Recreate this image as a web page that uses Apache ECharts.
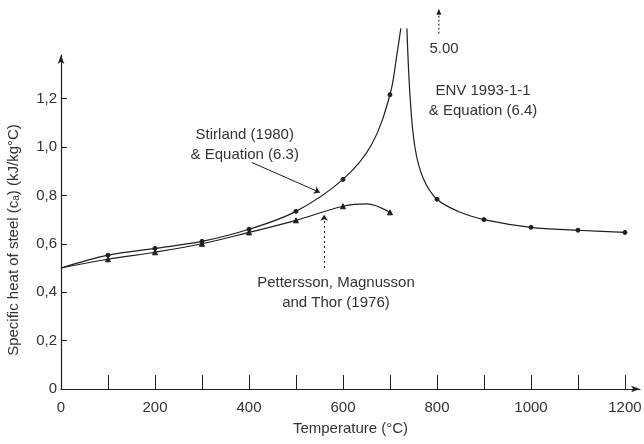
<!DOCTYPE html>
<html>
<head>
<meta charset="utf-8">
<script src="https://cdn.jsdelivr.net/npm/echarts@6/dist/echarts.min.js"></script>
<style>
  html, body { margin: 0; padding: 0; background: #fff; }
  #chart { width: 644px; height: 444px; }
</style>
</head>
<body>
<div id="chart"></div>
<script>
// Temperature (°C) and specific heat (kJ/kg°C)
// ENV 1993-1-1 / Stirland curve, rising branch up to the break near 735 °C
var envRiseTemp = [0, 100, 200, 300, 400, 500, 600, 661, 700, 715, 723];
var envRiseHeat = [0.50, 0.553, 0.581, 0.61, 0.66, 0.734, 0.866, 1.01, 1.216, 1.385, 1.49];
// falling branch after the peak
var envFallTemp = [736, 743, 753, 770, 800, 850, 900, 1000, 1100, 1200];
var envFallHeat = [1.49, 1.20, 1.0, 0.874, 0.784, 0.73, 0.70, 0.668, 0.656, 0.647];
// Pettersson, Magnusson and Thor (1976)
var petTemp = [0, 100, 200, 300, 400, 500, 600, 650, 700];
var petHeat = [0.50, 0.536, 0.565, 0.60, 0.647, 0.697, 0.755, 0.765, 0.73];

// tick positions
var xTicks = [0, 100, 200, 300, 400, 500, 600, 700, 800, 900, 1000, 1100, 1200];
var xLabels = [0, 200, 400, 600, 800, 1000, 1200];
var yLabels = [0, 0.2, 0.4, 0.6, 0.8, 1.0, 1.2];

var peakValue = '5.00';

function pts(t, v, markEvery) {
  return t.map(function (x, i) {
    var item = { value: [x, v[i]] };
    if (!(x > 0 && x % markEvery === 0)) item.symbol = 'none';
    return item;
  });
}

var ink = '#1e1e1e';
var textCol = '#333';
var font = 'Liberation Sans';
var fs = 15;

var lineBase = {
  type: 'line',
  smooth: 0.35,
  clip: false,
  showSymbol: true,
  symbolSize: 4,
  lineStyle: { color: ink, width: 1.2 },
  itemStyle: { color: ink, borderColor: ink, borderWidth: 1 },
  emphasis: { disabled: true },
  z: 3
};

var chart = echarts.init(document.getElementById('chart'), null, { renderer: 'canvas' });

chart.setOption({
  animation: false,
  backgroundColor: '#fff',
  textStyle: { fontFamily: font },
  grid: { left: 61, right: 4, top: 55, bottom: 55, containLabel: false, outerBoundsMode: 'none' },
  xAxis: {
    type: 'value',
    min: 0,
    max: 1232,
    name: 'Temperature (°C)',
    nameLocation: 'middle',
    nameGap: 32,
    nameTextStyle: { color: textCol, fontSize: fs, fontFamily: font },
    axisLine: { show: true, symbol: ['none', 'arrow'], symbolSize: [5, 9], lineStyle: { color: ink, width: 1.2 } },
    axisTick: { show: true, inside: true, length: 14, customValues: xTicks, lineStyle: { color: ink, width: 1 } },
    axisLabel: {
      customValues: xLabels, color: textCol, fontSize: fs, margin: 11, fontFamily: font,
      formatter: function (v) { return String(v); }
    },
    splitLine: { show: false }
  },
  yAxis: {
    type: 'value',
    min: 0,
    max: 1.38,
    name: 'Specific heat of steel (c{sub|a}) (kJ/kg°C)',
    nameLocation: 'middle',
    nameRotate: 90,
    nameGap: 40,
    nameTextStyle: {
      color: textCol, fontSize: fs, fontFamily: font, padding: [0, 36, 0, 0],
      rich: { sub: { fontSize: 10, color: textCol, fontFamily: font, verticalAlign: 'bottom', padding: [5, 0, 0, 0] } }
    },
    axisLine: { show: true, symbol: ['none', 'arrow'], symbolSize: [5, 9], lineStyle: { color: ink, width: 1.2 } },
    axisTick: { show: true, inside: true, length: 6, customValues: yLabels, lineStyle: { color: ink, width: 1 } },
    axisLabel: {
      customValues: yLabels, color: textCol, fontSize: fs, margin: 4, fontFamily: font,
      formatter: function (v) { return v === 0 ? '0' : v.toFixed(1).replace('.', ','); }
    },
    splitLine: { show: false }
  },
  series: [
    Object.assign({}, lineBase, {
      name: 'ENV 1993-1-1 rise',
      symbol: 'circle',
      data: pts(envRiseTemp, envRiseHeat, 100)
    }),
    Object.assign({}, lineBase, {
      name: 'ENV 1993-1-1 fall',
      symbol: 'circle',
      data: pts(envFallTemp, envFallHeat, 100)
    }),
    Object.assign({}, lineBase, {
      name: 'Pettersson, Magnusson and Thor',
      symbol: 'triangle',
      symbolSize: 5,
      data: pts(petTemp, petHeat, 100)
    }),
    {
      name: 'notes',
      type: 'line',
      data: [],
      clip: false,
      silent: true,
      markLine: {
        silent: true,
        animation: false,
        symbol: ['none', 'arrow'],
        symbolSize: 6,
        label: { show: false },
        emphasis: { disabled: true },
        data: [
          [{ coord: [406, 0.936], lineStyle: { color: ink, width: 1, type: 'solid' } }, { coord: [551, 0.812] }],
          [{ coord: [560, 0.50], lineStyle: { color: ink, width: 1, type: [2, 3] } }, { coord: [560, 0.72] }]
        ]
      },
      markPoint: {
        silent: true,
        animation: false,
        symbol: 'circle',
        symbolSize: 0,
        label: {
          show: true, position: 'inside', color: textCol, fontSize: fs, fontFamily: font,
          lineHeight: 20, align: 'center', verticalAlign: 'middle'
        },
        data: [
          { coord: [391, 1.008], label: { formatter: 'Stirland (1980)\n& Equation (6.3)' } },
          { coord: [898, 1.19], label: { formatter: 'ENV 1993-1-1\n& Equation (6.4)' } },
          { coord: [585, 0.397], label: { formatter: 'Pettersson, Magnusson\nand Thor (1976)' } }
        ]
      }
    }
  ]
});

// Peak value note above the plot area, placed through the axis scales
var labelPos = chart.convertToPixel({ gridIndex: 0 }, [815, 1.405]);
var arrowFrom = chart.convertToPixel({ gridIndex: 0 }, [804, 1.468]);
var arrowTo = chart.convertToPixel({ gridIndex: 0 }, [804, 1.571]);
chart.setOption({
  graphic: [
    {
      type: 'text', x: labelPos[0], y: labelPos[1], silent: true,
      style: { text: peakValue, fill: textCol, font: fs + 'px ' + font, align: 'center', verticalAlign: 'middle' }
    },
    {
      type: 'line', silent: true,
      shape: { x1: arrowFrom[0], y1: arrowFrom[1], x2: arrowTo[0], y2: arrowTo[1] + 5 },
      style: { stroke: ink, lineWidth: 1, lineDash: [2, 2] }
    },
    {
      type: 'polygon', silent: true,
      shape: { points: [[arrowTo[0], arrowTo[1]], [arrowTo[0] - 2.5, arrowTo[1] + 6], [arrowTo[0] + 2.5, arrowTo[1] + 6]] },
      style: { fill: ink }
    }
  ]
});
</script>
</body>
</html>
